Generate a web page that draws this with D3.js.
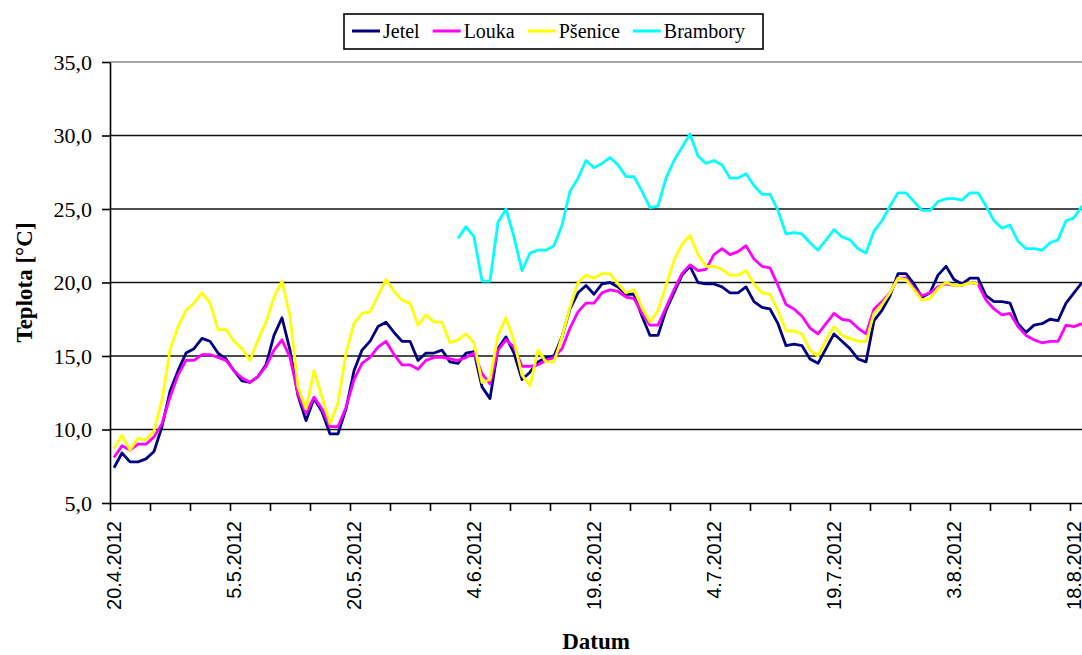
<!DOCTYPE html>
<html>
<head>
<meta charset="utf-8">
<script src="https://cdn.jsdelivr.net/npm/d3@7"></script>
<style>
body { margin: 0; background: #fff; }
svg { display: block; }
.serif { font-family: "Liberation Serif", "Times New Roman", serif; }
.sans { font-family: "Liberation Sans", Arial, sans-serif; }
</style>
</head>
<body>
<script>
// daily means, first day 20.4.2012
var startDate = new Date(Date.UTC(2012, 3, 20));
var seriesNames = ['Jetel', 'Louka', 'Pšenice', 'Brambory'];
var seriesColors = ['#000080', '#ff00ff', '#ffff00', '#00ffff'];
var yTicks = [5, 10, 15, 20, 25, 30, 35];

var jetel = [
    7.4, 8.4, 7.8, 7.8, 8.0, 8.5, 10.2, 12.6, 14.0, 15.2,
    15.5, 16.2, 16.0, 15.2, 14.8, 14.0, 13.3, 13.2, 13.6, 14.4,
    16.4, 17.6, 15.4, 12.3, 10.6, 12.1, 11.2, 9.7, 9.7, 11.4,
    14.0, 15.4, 16.0, 17.0, 17.3, 16.6, 16.0, 16.0, 14.7, 15.2,
    15.2, 15.4, 14.6, 14.5, 15.2, 15.3, 12.9, 12.1, 15.5, 16.3,
    15.2, 13.4, 13.9, 14.6, 14.9, 15.0, 16.3, 18.2, 19.3, 19.8,
    19.2, 19.9, 20.0, 19.7, 19.2, 19.2, 17.7, 16.4, 16.4, 18.1,
    19.3, 20.5, 21.1, 20.0, 19.9, 19.9, 19.7, 19.3, 19.3, 19.7,
    18.7, 18.3, 18.2, 17.2, 15.7, 15.8, 15.7, 14.8, 14.5, 15.5,
    16.5, 16.0, 15.5, 14.8, 14.6, 17.4, 18.1, 19.1, 20.6, 20.6,
    19.9, 19.0, 19.3, 20.5, 21.1, 20.2, 19.9, 20.3, 20.3, 19.1,
    18.7, 18.7, 18.6, 17.2, 16.6, 17.1, 17.2, 17.5, 17.4, 18.6,
    19.3, 20.0
];
var louka = [
    8.1, 8.9, 8.6, 9.0, 9.0, 9.5, 10.4, 12.2, 13.7, 14.7,
    14.7, 15.1, 15.1, 14.9, 14.7, 14.0, 13.5, 13.2, 13.6, 14.3,
    15.4, 16.1, 14.9, 12.4, 11.1, 12.2, 11.4, 10.2, 10.2, 11.5,
    13.4, 14.5, 14.9, 15.6, 16.0, 15.1, 14.4, 14.4, 14.1, 14.7,
    14.9, 14.9, 14.8, 14.7, 14.9, 15.2, 13.8, 13.1, 15.4, 16.1,
    15.6, 14.3, 14.3, 14.4, 14.7, 14.9, 15.5, 16.9, 18.0, 18.6,
    18.6, 19.3, 19.5, 19.4, 19.0, 18.9, 17.9, 17.1, 17.1, 18.3,
    19.5, 20.6, 21.2, 20.8, 20.9, 21.9, 22.3, 21.9, 22.1, 22.5,
    21.6, 21.1, 21.0, 19.8, 18.5, 18.2, 17.7, 16.9, 16.5, 17.2,
    17.9, 17.5, 17.4, 16.9, 16.5, 18.2, 18.7, 19.3, 20.3, 20.3,
    19.6, 19.1, 19.3, 19.7, 19.9, 19.8, 19.8, 20.0, 19.9, 18.8,
    18.2, 17.8, 17.9, 17.0, 16.4, 16.1, 15.9, 16.0, 16.0, 17.1,
    17.0, 17.2
];
var psenice = [
    8.7, 9.6, 8.6, 9.4, 9.3, 9.9, 12.0, 15.4, 17.0, 18.1,
    18.6, 19.3, 18.6, 16.8, 16.8, 16.0, 15.5, 14.7, 16.1, 17.3,
    19.0, 20.1, 17.7, 12.9, 11.4, 14.0, 12.2, 10.4, 11.8, 15.2,
    17.2, 17.9, 18.0, 19.1, 20.2, 19.4, 18.8, 18.6, 17.1, 17.8,
    17.3, 17.3, 15.9, 16.1, 16.5, 15.9, 13.2, 13.4, 16.4, 17.6,
    16.0, 13.7, 13.0, 15.4, 14.6, 14.6, 16.3, 18.3, 20.0, 20.5,
    20.3, 20.6, 20.6, 19.9, 19.3, 19.5, 18.3, 17.3, 18.1, 19.8,
    21.5, 22.6, 23.2, 21.9, 21.1, 21.1, 20.9, 20.5, 20.5, 20.8,
    19.9, 19.3, 19.2, 18.1, 16.7, 16.7, 16.5, 15.4, 15.0, 16.1,
    17.0, 16.4, 16.2, 16.0, 16.0, 17.9, 18.5, 19.3, 20.3, 20.2,
    19.5, 18.8, 18.9, 19.6, 20.0, 19.8, 19.8, 20.0, 19.9
];
var brambory = [
    null, null, null, null, null, null, null, null, null, null,
    null, null, null, null, null, null, null, null, null, null,
    null, null, null, null, null, null, null, null, null, null,
    null, null, null, null, null, null, null, null, null, null,
    null, null, null, 23.0, 23.8, 23.1, 20.1, 20.1, 24.1, 25.0,
    23.1, 20.8, 22.0, 22.2, 22.2, 22.5, 23.9, 26.2, 27.1, 28.3,
    27.8, 28.1, 28.5, 28.0, 27.2, 27.2, 26.2, 25.1, 25.2, 27.1,
    28.3, 29.2, 30.1, 28.6, 28.1, 28.3, 28.0, 27.1, 27.1, 27.4,
    26.6, 26.0, 26.0, 24.9, 23.3, 23.4, 23.3, 22.7, 22.2, 22.9,
    23.6, 23.1, 22.9, 22.3, 22.0, 23.5, 24.2, 25.2, 26.1, 26.1,
    25.5, 24.9, 24.9, 25.5, 25.7, 25.7, 25.6, 26.1, 26.1, 25.2,
    24.2, 23.7, 23.9, 22.8, 22.3, 22.3, 22.2, 22.7, 22.9, 24.2,
    24.4, 25.2
];

var seriesValues = [jetel, louka, psenice, brambory];

var width = 1082,
    height = 655,
    plot = { left: 110, right: 1082, top: 62, bottom: 503 };

var svg = d3.select('body')
    .append('svg')
    .attr('width', width)
    .attr('height', height)

var dayCount = d3.max(seriesValues, s => s.length);
var lastDay = d3.utcDay.offset(startDate, dayCount - 1);
var noon = d => d3.utcHour.offset(d, 12);

var xScale = d3.scaleTime()
    .domain([startDate, noon(lastDay)])
    .range([plot.left, plot.right])
var yScale = d3.scaleLinear()
    .domain([5, 35])
    .range([plot.bottom, plot.top])

svg.append('defs').append('clipPath').attr('id', 'clip')
    .append('rect')
    .attr('x', plot.left).attr('y', 0)
    .attr('width', plot.right - plot.left).attr('height', height)

// gridlines
svg.append('g')
    .selectAll('line')
    .data(yTicks.filter(t => t > 5))
    .join('line')
    .attr('x1', plot.left)
    .attr('x2', plot.right)
    .attr('y1', d => yScale(d))
    .attr('y2', d => yScale(d))
    .attr('stroke', d => d === 35 ? '#8a8a8a' : '#111')
    .attr('stroke-width', 1.6)

// series
var line = d3.line()
    .defined(d => d.v != null)
    .x(d => xScale(noon(d.date)))
    .y(d => yScale(d.v))

var lines = svg.append('g').attr('clip-path', 'url(#clip)');
seriesValues.forEach((vals, k) => {
    var pts = vals.map((v, i) => ({ date: d3.utcDay.offset(startDate, i), v: v }));
    lines.append('path')
        .attr('d', line(pts))
        .attr('style', `fill: none; stroke: ${seriesColors[k]}; stroke-width: 2.8px; stroke-linejoin: round;`)
});

// x axis: ticks every 5 days, labels every 15
var tickDates = d3.range(0, dayCount, 5).map(k => d3.utcDay.offset(startDate, k));
var labelDates = d3.range(0, dayCount, 15).map(k => noon(d3.utcDay.offset(startDate, k)));

var xAxis = svg.append('g')
    .attr('transform', `translate(0, ${plot.bottom})`)
    .call(d3.axisBottom(xScale).tickValues(tickDates).tickFormat('').tickSize(8).tickSizeOuter(0))
xAxis.selectAll('path, line').attr('stroke', '#000').attr('stroke-width', 1.6)

var xLabels = svg.append('g')
    .attr('transform', `translate(0, ${plot.bottom})`)
    .call(d3.axisBottom(xScale).tickValues(labelDates).tickFormat(d3.utcFormat('%-d.%-m.%Y')).tickSize(0))
xLabels.select('.domain').remove()
xLabels.selectAll('text')
    .attr('class', 'sans')
    .attr('font-size', 20)
    .attr('fill', '#000')
    .attr('text-anchor', 'end')
    .attr('x', -18)
    .attr('y', 0)
    .attr('dy', '0.33em')
    .attr('transform', 'rotate(-90)')

// y axis
var yAxis = svg.append('g')
    .attr('transform', `translate(${plot.left}, 0)`)
    .call(d3.axisLeft(yScale).tickValues(yTicks).tickSize(8).tickSizeOuter(0).tickPadding(10)
        .tickFormat(d => d3.format('.1f')(d).replace('.', ',')))
yAxis.selectAll('path, line').attr('stroke', '#000').attr('stroke-width', 1.6)
yAxis.selectAll('text')
    .attr('class', 'serif')
    .attr('font-size', 22)
    .attr('fill', '#000')

// axis titles
svg.append('text')
    .attr('class', 'serif')
    .attr('font-size', 23)
    .attr('font-weight', 'bold')
    .attr('text-anchor', 'middle')
    .attr('transform', `translate(${(plot.left + plot.right) / 2}, 649)`)
    .text('Datum')
svg.append('text')
    .attr('class', 'serif')
    .attr('font-size', 23)
    .attr('font-weight', 'bold')
    .attr('text-anchor', 'middle')
    .attr('transform', `translate(32, ${(plot.top + plot.bottom) / 2}) rotate(-90)`)
    .text('Teplota [°C]')

// legend
var legend = svg.append('g');
legend.append('rect')
    .attr('x', 344).attr('y', 14)
    .attr('width', 419).attr('height', 35)
    .attr('fill', '#fff')
    .attr('stroke', '#000')
    .attr('stroke-width', 1.6)

var lx = 352;
seriesNames.forEach((name, k) => {
    legend.append('line')
        .attr('x1', lx).attr('x2', lx + 28)
        .attr('y1', 31).attr('y2', 31)
        .attr('stroke', seriesColors[k])
        .attr('stroke-width', 3)
    var t = legend.append('text')
        .attr('class', 'serif')
        .attr('font-size', 20)
        .attr('x', lx + 31)
        .attr('y', 38)
        .text(name)
    lx += 31 + t.node().getComputedTextLength() + 13;
});
</script>
</body>
</html>
